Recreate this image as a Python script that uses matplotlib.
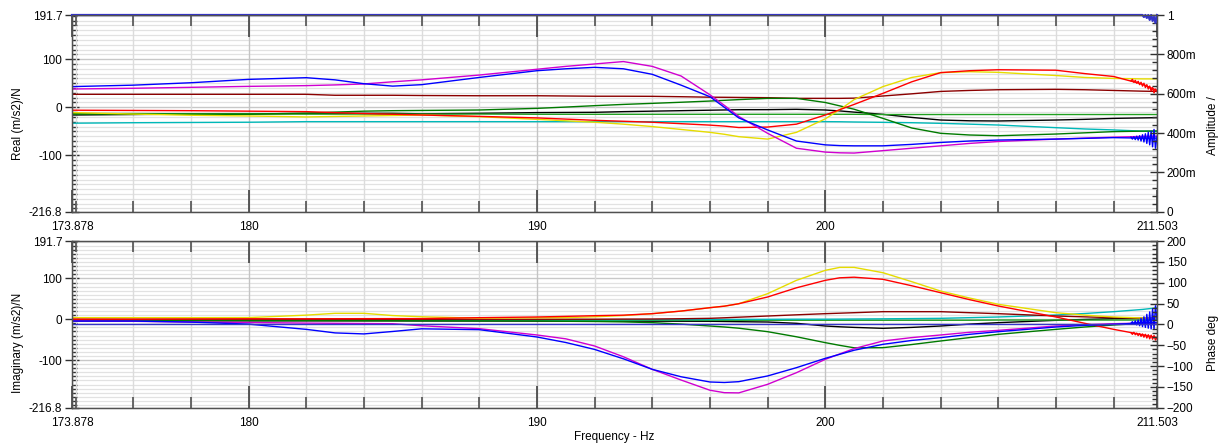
import matplotlib
matplotlib.use('Agg')
import matplotlib.pyplot as plt
from matplotlib.ticker import MultipleLocator, FixedLocator, FixedFormatter

plt.rcParams['font.family'] = ['Liberation Sans', 'DejaVu Sans']
plt.rcParams['font.size'] = 8.5

# Frequency points (Hz) the curves were read at
freq = [173.878, 176, 178, 180, 182, 183, 184, 185, 186, 188, 190, 191, 192, 193, 194, 195,
        196, 196.5, 197, 198, 199, 200, 200.5, 201, 202, 203, 204, 205, 206, 208, 209, 210, 211, 211.503]

# Real part (m/s2)/N
blue_re = [43, 46, 51, 58, 61.5, 57, 49, 44, 47, 62, 76, 80, 83, 80, 68.5, 46,
           22, 0, -22, -47, -70, -78, -79.5, -80, -80, -77, -73, -70, -68, -66, -64.5, -63, -64, -64]
magenta_re = [38, 39.5, 41.5, 43.5, 45, 46.5, 48.5, 53, 57, 67, 79, 85, 90, 95, 85, 65,
              26, 4, -19, -54, -85, -93, -94.5, -95, -90, -85, -80, -75, -71, -66, -64, -62, -60.5, -60]
maroon_re = [27, 27, 27, 27, 27, 25, 25, 25, 24.5, 24, 24, 23.5, 23, 23, 22.8, 22,
             21, 20.8, 20.5, 20, 18.6, 18.6, 18.6, 19, 23.5, 28, 33, 35, 36.5, 37.3, 36.5, 35, 33.5, 33]
red_re = [-6, -6.5, -7, -8, -9, -11, -13, -14.5, -16, -18.8, -22, -24.5, -27, -29, -31, -34,
          -37, -39, -42, -41, -35, -16, -5, 6, 29, 53, 72, 76, 78, 77, 70, 64, 48, 35]
yellow_re = [-11, -14, -16.5, -18, -20, -19, -18, -17, -16, -19.5, -25, -28, -31, -35, -40, -46,
             -52, -56, -61, -66, -52, -24, -5, 16, 43, 62, 72, 74, 72.6, 66, 62, 60, 59, 59]
green_re = [-14, -14, -14.5, -14.5, -12, -10, -8, -7, -6.5, -5.6, -2.2, 0.5, 3.4, 6, 8.2, 10.5,
            13, 14.5, 16, 18.6, 18.6, 10, 3, -4, -23, -43, -54, -57.5, -59, -55.5, -53, -50.5, -49.5, -49]
black_re = [-16, -15, -14, -13.5, -13, -13, -12.5, -12.5, -13.5, -12.5, -11, -10.7, -10.4, -9, -8, -7,
            -6, -5.5, -5, -4.9, -4.2, -5.6, -7.5, -10, -14.6, -21, -26.4, -28, -28.4, -26.4, -25, -23, -22, -21.5]
green2_re = [-13, -13, -13.5, -13.5, -14, -14, -14, -14, -14, -14, -14.5, -14.5, -14.5, -14.5, -14.5, -14.5,
             -14.5, -14.5, -14.5, -14.5, -14.5, -14.5, -14.5, -14.5, -15, -15, -15, -15, -15, -15, -15, -15, -15, -15]
cyan_re = [-33, -32, -31.5, -31, -29.8, -29.8, -29.8, -29.8, -29.8, -29.8, -29.8, -29.8, -29.8, -29.8, -29.8, -29.8,
           -29.8, -29.8, -29.8, -29.8, -29.8, -29.8, -30, -30.5, -31.2, -32, -33.3, -35, -36.8, -42.3, -45, -47, -49.5, -50.5]

# Imaginary part (m/s2)/N
blue_im = [-4.5, -4.5, -7, -12, -24.8, -33.5, -36, -30, -23.5, -25.6, -43.5, -57, -74, -97, -122.8, -141,
           -153.8, -155, -153, -139, -118.7, -95.8, -86, -76, -61.5, -52, -45.2, -37, -30.5, -19, -15, -12.5, -9, -8]
magenta_im = [-4, -5, -7, -8, -9.5, -10, -10.5, -11, -16, -23.1, -38.6, -48, -65.6, -92, -122.8, -149,
              -174, -180, -180.5, -159.5, -131, -98.3, -85, -72, -53.3, -45, -38.6, -32, -27.2, -16.6, -13.5, -11, -9.5, -9]
yellow_im = [3.8, 3.8, 3.8, 4, 10, 14.5, 14.5, 9, 6, 2.5, 3.5, 4, 6, 9, 13.6, 20,
             28.3, 32, 38, 62.6, 95.3, 119.8, 127, 127, 114, 92, 69, 52, 36.5, 16, 10, 5.5, 3, 2.2]
red_im = [0, 0, 0.5, 1, 1, 1.2, 1.4, 1.5, 1.5, 3.8, 5.5, 7, 8.7, 10, 13.6, 20,
          28.3, 32, 38, 54.5, 77, 95.3, 101.5, 103, 97.8, 82, 65, 48, 32.4, 5.5, -10, -24.8, -38, -45]
maroon_im = [0, 0, 0, 0, 0, 0, 0, 0, 0, 0, 0, 0, 0, 0.3, 0.5, 1.2,
             2.2, 3.5, 5, 7.9, 10.8, 13.6, 14.8, 16, 18.5, 18.5, 18.5, 16, 13.6, 7.9, 5.8, 3.8, 2.5, 2.2]
green_im = [-2.7, -2.7, -2.7, -3, -3, -3.2, -3.4, -3.6, -3.8, -4, -4.3, -5, -5.5, -6.5, -8.4, -12,
            -16.6, -19, -22, -30.5, -43, -57.4, -64, -70, -69.7, -62, -53.3, -45, -37, -24.8, -19, -14.1, -10, -8.4]
black_im = [-4, -4, -4, -4, -4, -4, -4, -4, -4.2, -4.3, -4.5, -4.5, -4.6, -4.7, -4.8, -4.9,
            -5, -5.5, -6, -6.8, -10, -16.6, -18.5, -20, -22.3, -20, -16.6, -12, -8.4, -2.7, -0.5, 1.4, 2, 2.2]
green2_im = [-3, -3, -3, -3, -3, -3, -3, -3, -3, -3, -2.5, -2.5, -2.5, -2.5, -2.5, -2.5,
             -2.5, -2.5, -2.5, -2.5, -2.5, -2.5, -2.5, -2.5, -2.5, -2.5, -2.5, -2.5, -2, -2, -2, -2, -2, -2]
cyan_im = [-2.7, -2.7, -2.7, -2.5, -2.5, -2.5, -2.5, -2.3, -2.3, -2, -2, -1.8, -1.6, -1.4, -1.2, -1,
           -0.8, -0.6, -0.5, -0.3, 0, 0, 0.2, 0.5, 1, 1.6, 2.2, 3.8, 5.5, 10.4, 14, 18.5, 24, 28]

# noisy ends of the blue and red traces near the top of the band
tail_freq = [210.60, 210.65, 210.70, 210.75, 210.80, 210.85, 210.90, 210.95, 211.00, 211.05,
             211.10, 211.15, 211.20, 211.25, 211.30, 211.35, 211.40, 211.45, 211.503]
blue_tail_re = [-62, -66, -61, -67, -60, -68, -59, -70, -57, -72, -55, -75, -52, -78, -50, -82, -46, -85, -60]
blue_tail_im = [-10, -6, -12, -4, -14, -2, -16, 2, -18, 6, -20, 12, -22, 18, -24, 26, -25, 33, 0]
red_tail_re = [55, 58, 52, 56, 50, 54, 47, 52, 44, 50, 41, 47, 38, 44, 34, 41, 30, 38, 33]
red_tail_im = [-33, -37, -32, -38, -34, -40, -35, -42, -36, -44, -37, -46, -38, -48, -39, -49, -40, -51, -45]

# reference trace: amplitude 1, phase 0
ref_freq = [173.878, 211.0, 211.05, 211.1, 211.15, 211.2, 211.25, 211.3, 211.35, 211.4, 211.45, 211.503]
ref_amp = [1.0, 1.0, 0.99, 1.0, 0.985, 1.0, 0.975, 1.0, 0.97, 0.99, 0.96, 1.0]
ref_phase_freq = [173.878, 211.503]
ref_phase = [0.0, 0.0]

series = [
    ('#000000', black_re, black_im),
    ('#22a022', green2_re, green2_im),
    ('#00b8b8', cyan_re, cyan_im),
    ('#8b0000', maroon_re, maroon_im),
    ('#007a00', green_re, green_im),
    ('#e6dc00', yellow_re, yellow_im),
    ('#ff0000', red_re, red_im),
    ('#d000d0', magenta_re, magenta_im),
    ('#0000ff', blue_re, blue_im),
]

x_ticks = [173.878, 180, 190, 200, 211.503]
x_labels = ['173.878', '180', '190', '200', '211.503']
y_ticks = [-216.8, -100, 0, 100, 191.7]
y_labels = ['-216.8', '-100', '0', '100', '191.7']

W, H = 1225, 446
fig = plt.figure(figsize=(W / 100, H / 100), dpi=100)
ax_re = fig.add_axes([72 / W, 1 - 211.7 / H, 1085 / W, 196.7 / H])
ax_im = fig.add_axes([72 / W, 1 - 407.7 / H, 1085 / W, 166.7 / H])

spine_col = '#505050'


def style_main(ax, ylabel, label_y):
    ax.set_xlim(173.878, 211.503)
    ax.set_ylim(-216.8, 191.7)
    ax.xaxis.set_major_locator(FixedLocator(x_ticks))
    ax.xaxis.set_major_formatter(FixedFormatter(x_labels))
    ax.xaxis.set_minor_locator(MultipleLocator(2))
    ax.yaxis.set_major_locator(FixedLocator(y_ticks))
    ax.yaxis.set_major_formatter(FixedFormatter(y_labels))
    ax.yaxis.set_minor_locator(MultipleLocator(10))
    ax.tick_params(axis='x', which='major', direction='in', length=16, width=1.2,
                   color='#404040', top=True, bottom=True, pad=7)
    ax.tick_params(axis='x', which='minor', direction='in', length=8, width=1.2,
                   color='#505050', top=True, bottom=True)
    ax.tick_params(axis='y', which='major', direction='inout', length=10, width=1,
                   color='#303030', pad=2)
    ax.tick_params(axis='y', which='minor', direction='in', length=3.5, width=1, color='#303030')
    ax.grid(True, which='minor', axis='x', color='#dcdcdc', lw=1.0)
    ax.grid(True, which='major', axis='x', color='#c4c4c4', lw=1.0)
    ax.grid(True, which='minor', axis='y', color='#e2e2e2', lw=0.9)
    ax.grid(True, which='major', axis='y', color='#c8c8c8', lw=1.0)
    ax.set_axisbelow(True)
    # keep the x ticks above the horizontal grid
    ax.yaxis.set_zorder(0.4)
    ax.xaxis.set_zorder(0.6)
    for s in ax.spines.values():
        s.set_color(spine_col)
        s.set_linewidth(1.0)
    ax.set_ylabel(ylabel)
    ax.yaxis.set_label_coords(-0.044, label_y)


style_main(ax_re, 'Real (m/s2)/N', 0.45)
style_main(ax_im, 'Imaginary (m/s2)/N', 0.39)
ax_im.set_xlabel('Frequency - Hz', labelpad=1)

for col, re, im in series:
    ax_re.plot(freq, re, color=col, lw=1.0)
    ax_im.plot(freq, im, color=col, lw=1.0)

ax_re.plot(tail_freq, red_tail_re, color='#ff0000', lw=1.0)
ax_im.plot(tail_freq, red_tail_im, color='#ff0000', lw=1.0)
ax_re.plot(tail_freq, blue_tail_re, color='#0000ff', lw=1.0)
ax_im.plot(tail_freq, blue_tail_im, color='#0000ff', lw=1.0)

# right-hand axes
ax_amp = ax_re.twinx()
ax_amp.set_ylim(0, 1)
ax_amp.yaxis.set_major_locator(FixedLocator([0, 0.2, 0.4, 0.6, 0.8, 1.0]))
ax_amp.yaxis.set_major_formatter(FixedFormatter(['0', '200m', '400m', '600m', '800m', '1']))
ax_amp.yaxis.set_minor_locator(MultipleLocator(0.04))
ax_amp.plot(ref_freq, ref_amp, color='#3535c8', lw=1.6, clip_on=False)
ax_amp.set_ylabel('Amplitude /')
ax_amp.yaxis.set_label_coords(1.046, 0.44)

ax_ph = ax_im.twinx()
ax_ph.set_ylim(-200, 200)
ax_ph.yaxis.set_major_locator(MultipleLocator(50))
ax_ph.yaxis.set_minor_locator(MultipleLocator(10))
ax_ph.plot(ref_phase_freq, ref_phase, color='#3535c8', lw=1.0)
ax_ph.set_ylabel('Phase deg')
ax_ph.yaxis.set_label_coords(1.046, 0.39)

for ax in (ax_amp, ax_ph):
    ax.tick_params(axis='y', which='major', direction='inout', length=10, width=1,
                   color='#303030', pad=2)
    ax.tick_params(axis='y', which='minor', direction='in', length=3.5, width=1, color='#303030')
    for s in ax.spines.values():
        s.set_color(spine_col)

fig.savefig('out.png', dpi=100)
